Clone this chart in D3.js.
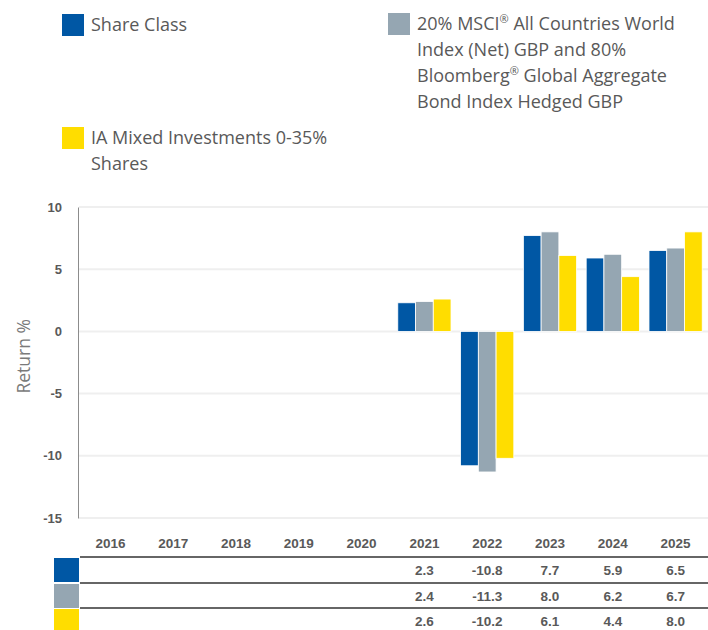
<!DOCTYPE html>
<html>
<head>
<meta charset="utf-8">
<script src="https://cdn.jsdelivr.net/npm/d3@7"></script>
<style>
  body { margin: 0; background: #fff; }
  text { font-family: "Liberation Sans", Arial, sans-serif; }
</style>
</head>
<body>
<script>
let years = ['2016', '2017', '2018', '2019', '2020', '2021', '2022', '2023', '2024', '2025'];
let shareClass = [null, null, null, null, null, 2.3, -10.8, 7.7, 5.9, 6.5];
let benchmark = [null, null, null, null, null, 2.4, -11.3, 8.0, 6.2, 6.7];
let sector = [null, null, null, null, null, 2.6, -10.2, 6.1, 4.4, 8.0];
let seriesNames = ['Share Class',
  '20% MSCI® All Countries World Index (Net) GBP and 80% Bloomberg® Global Aggregate Bond Index Hedged GBP',
  'IA Mixed Investments 0-35% Shares'];
let yTicks = [10, 5, 0, -5, -10, -15];

let colors = ['#0057a4', '#95a6b2', '#ffdd00'];
let textColor = '#595959';
let width = 708, height = 630;

let series = [shareClass, benchmark, sector];

const svg = d3.select('body').append('svg')
  .attr('width', width)
  .attr('height', height);

// legend
let legend = [
  { x: 62, y: 14, lines: ['Share Class'] },
  { x: 388, y: 13, lines: ['20% MSCI® All Countries World', 'Index (Net) GBP and 80%', 'Bloomberg® Global Aggregate', 'Bond Index Hedged GBP'] },
  { x: 62, y: 127, lines: ['IA Mixed Investments 0-35%', 'Shares'] }
];
legend.forEach((l, i) => {
  let g = svg.append('g').attr('transform', `translate(${l.x},${l.y})`);
  g.append('rect').attr('width', 22).attr('height', 22).attr('fill', colors[i]);
  l.lines.forEach((line, j) => {
    let t = g.append('text')
      .attr('x', 29)
      .attr('y', 17 + j * 26)
      .attr('font-size', 18)
      .attr('fill', textColor)
      .style('font-family', '"Open Sans", sans-serif');
    // the ® mark is set as a small superscript
    let shift = 0;
    line.split(/(®)/).forEach(part => {
      if (part === '®') {
        t.append('tspan').attr('font-size', 11).attr('dy', -7).text('®');
        shift = 7;
      } else if (part) {
        t.append('tspan').attr('dy', shift).text(part);
        shift = 0;
      }
    });
  });
});

// chart
let x = d3.scaleBand().domain(years).range([79, 707]);
let y = d3.scaleLinear().domain([-15, 10]).range([518, 207]);
let x1 = d3.scaleBand().domain([0, 1, 2]).range([0, x.bandwidth()]).paddingOuter(0.27).paddingInner(0);

svg.append('g').selectAll('line').data(yTicks).join('line')
  .attr('x1', 79).attr('x2', 708)
  .attr('y1', d => y(d)).attr('y2', d => y(d))
  .attr('stroke', '#efefef').attr('stroke-width', 2);

const yAxis = svg.append('g')
  .attr('transform', 'translate(78,0)')
  .call(d3.axisLeft(y).tickValues(yTicks).tickSize(0).tickPadding(16).tickFormat(d => String(d)));
yAxis.select('.domain').attr('stroke', '#8c8c8c');
yAxis.selectAll('text')
  .attr('font-size', 13).attr('font-weight', 'bold')
  .attr('fill', textColor)
  .style('font-family', '"Liberation Sans", Arial, sans-serif');

svg.append('text')
  .attr('transform', `translate(30,${y(-2)}) rotate(-90)`)
  .attr('text-anchor', 'middle')
  .attr('font-size', 17.5)
  .attr('fill', '#7a7a7a')
  .style('font-family', '"Open Sans", sans-serif')
  .text('Return %');

series.forEach((s, i) => {
  svg.append('g').selectAll('rect')
    .data(years.map((yr, j) => ({ yr, v: s[j] })).filter(d => d.v !== null))
    .join('rect')
    .attr('x', d => x(d.yr) + x1(i))
    .attr('width', x1.bandwidth())
    .attr('y', d => y(Math.max(0, d.v)))
    .attr('height', d => Math.abs(y(d.v) - y(0)))
    .attr('fill', colors[i])
    .attr('stroke', '#ffffff').attr('stroke-width', 0.8);
});

// table
svg.append('g').selectAll('text').data(years).join('text')
  .attr('x', d => x(d) + x.bandwidth() / 2)
  .attr('y', 548)
  .attr('text-anchor', 'middle')
  .attr('font-size', 13.5).attr('font-weight', 'bold')
  .attr('fill', textColor)
  .text(d => d);

let rowTop = [557, 583, 608];
let rowH = 25;
series.forEach((s, i) => {
  svg.append('rect')
    .attr('x', 54).attr('y', rowTop[i] + 1)
    .attr('width', 25).attr('height', i === 2 ? 630 - rowTop[i] : rowH - 1)
    .attr('fill', colors[i]);
  svg.append('line')
    .attr('x1', 80).attr('x2', 708)
    .attr('y1', rowTop[i]).attr('y2', rowTop[i])
    .attr('stroke', '#666').attr('stroke-width', 2);
  svg.append('g').selectAll('text')
    .data(years.map((yr, j) => ({ yr, v: s[j] })).filter(d => d.v !== null))
    .join('text')
    .attr('x', d => x(d.yr) + x.bandwidth() / 2)
    .attr('y', rowTop[i] + 18)
    .attr('text-anchor', 'middle')
    .attr('font-size', 13.5).attr('font-weight', 'bold')
    .attr('fill', textColor)
    .text(d => d.v.toFixed(1));
});
</script>
</body>
</html>
